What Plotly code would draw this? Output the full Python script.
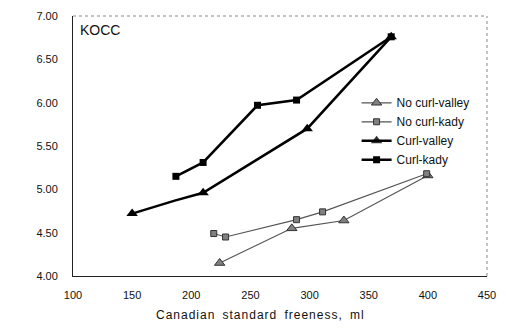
import plotly.graph_objects as go

# Canadian standard freeness (ml) and curl index per series
nc_valley_x = [224, 285, 329, 400]
nc_valley_y = [4.15, 4.55, 4.64, 5.16]

nc_kady_x = [219, 229, 289, 311, 399]
nc_kady_y = [4.49, 4.45, 4.65, 4.74, 5.18]

c_valley_x = [150, 186, 210, 298, 369]
c_valley_y = [4.72, 4.87, 4.96, 5.70, 6.76]

c_kady_x = [187, 210, 256, 289, 369]
c_kady_y = [5.15, 5.31, 5.97, 6.03, 6.76]

x_ticks = [100, 150, 200, 250, 300, 350, 400, 450]
y_ticks = [4.00, 4.50, 5.00, 5.50, 6.00, 6.50, 7.00]

FONT = "Liberation Sans, Arial, sans-serif"

fig = go.Figure()
fig.add_trace(go.Scatter(
    x=nc_valley_x, y=nc_valley_y, name="No curl-valley", mode="lines+markers",
    line=dict(color="#555555", width=1.2),
    marker=dict(symbol="triangle-up", size=9, color="#808080",
                line=dict(color="#333333", width=1)),
))
fig.add_trace(go.Scatter(
    x=nc_kady_x, y=nc_kady_y, name="No curl-kady", mode="lines+markers",
    line=dict(color="#555555", width=1.2),
    marker=dict(symbol="square", size=6, color="#808080",
                line=dict(color="#333333", width=1)),
))
# the bend at the second point carries no visible marker
fig.add_trace(go.Scatter(
    x=c_valley_x, y=c_valley_y, name="Curl-valley", mode="lines+markers",
    line=dict(color="#000000", width=2.5),
    marker=dict(symbol="triangle-up", size=10, color="#000000",
                opacity=[1, 0, 1, 1, 1]),
))
fig.add_trace(go.Scatter(
    x=c_kady_x, y=c_kady_y, name="Curl-kady", mode="lines+markers",
    line=dict(color="#000000", width=2.5),
    marker=dict(symbol="square", size=7, color="#000000"),
))

fig.update_layout(
    width=506, height=331,
    margin=dict(l=73, r=10, t=15, b=55),
    paper_bgcolor="white", plot_bgcolor="white",
    font=dict(family=FONT, color="#111111", size=11),
    showlegend=True,
    legend=dict(x=0.685, y=0.722, xanchor="left", yanchor="top",
                bgcolor="rgba(0,0,0,0)", font=dict(size=12, color="#111111"),
                tracegroupgap=0, itemwidth=30),
    annotations=[
        dict(text="KOCC", x=0.012, y=0.985, xref="paper", yref="paper",
             xanchor="left", yanchor="top", showarrow=False,
             font=dict(size=14, color="#111111", family=FONT)),
        dict(text="\u200a".join("Canadian standard freeness, ml").replace("\u200a \u200a", "\u2009 \u2009"),
             x=264, y=315, xref="paper", yref="paper", showarrow=False,
             font=dict(size=12, color="#111111", family=FONT)),
        dict(text="curl index", textangle=-90, x=12, y=145, showarrow=False,
             font=dict(size=12, color="#111111", family=FONT)),
    ],
)
# place axis-title annotations in pixel coordinates
for a in fig.layout.annotations[1:]:
    px, py = a.x, a.y
    a.x = (px - 73) / 423
    a.y = (276 - py) / 261
    a.xanchor = "center"
    a.yanchor = "middle"

fig.update_xaxes(
    range=[100, 450], tickvals=x_ticks, ticktext=[str(v) for v in x_ticks],
    showgrid=False, zeroline=False, showline=True, linecolor="#222222", linewidth=1,
    ticks="", tickfont=dict(size=11), ticklabelstandoff=9,
)
fig.update_yaxes(
    range=[4.0, 7.0], tickvals=y_ticks, ticktext=[f"{v:.2f}" for v in y_ticks],
    showgrid=False, zeroline=False, showline=True, linecolor="#222222", linewidth=1,
    ticks="", tickfont=dict(size=11), ticklabelstandoff=12,
)
# dotted top and right frame edges
fig.add_shape(type="line", xref="paper", yref="paper", x0=0, x1=1, y0=1, y1=1,
              line=dict(color="#888888", width=1, dash="dot"))
fig.add_shape(type="line", xref="paper", yref="paper", x0=1, x1=1, y0=0, y1=1,
              line=dict(color="#888888", width=1, dash="dot"))

fig.write_html("out.html")
